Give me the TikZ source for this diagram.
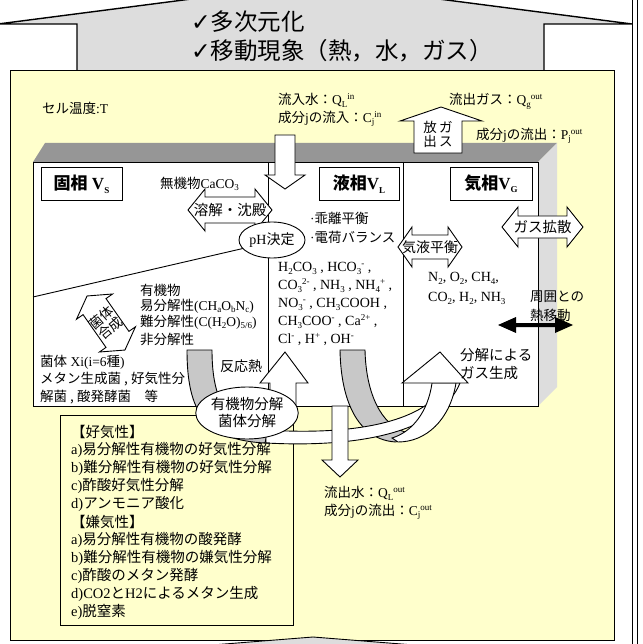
\documentclass[tikz,border=0pt]{standalone}
\usepackage{fontspec}
\usetikzlibrary{shapes.geometric}
\setmainfont{Liberation Serif}
\newfontfamily\jp{Noto Sans CJK JP}
\newfontfamily\djv{DejaVu Sans}
\newcommand\J[1]{{\jp #1}}
\newcommand\Sb[1]{\smash{\raisebox{-0.4ex}{\fontsize{9}{9}\selectfont #1}}}
\newcommand\Sp[1]{\smash{\raisebox{0.75ex}{\fontsize{9}{9}\selectfont #1}}}
\newcommand\SbSp[2]{\Sb{#1}\Sp{#2}}
\definecolor{cellyellow}{HTML}{FFFFCC}
\definecolor{arrowgrey}{HTML}{DDDDDD}
\definecolor{topgrey}{HTML}{969696}
\definecolor{sidegrey}{HTML}{DDDDDD}
\definecolor{bandgrey}{HTML}{C8C8C8}
\newcommand\DArrow[6]{%
 \draw[outl,fill=white] (#1,#3) -- ({#1+#4},{#3-#5}) -- ({#1+#4},{#3-#6}) -- ({#2-#4},{#3-#6}) -- ({#2-#4},{#3-#5}) -- (#2,#3) -- ({#2-#4},{#3+#5}) -- ({#2-#4},{#3+#6}) -- ({#1+#4},{#3+#6}) -- ({#1+#4},{#3+#5}) -- cycle;}
\begin{document}
\begin{tikzpicture}[x=1pt,y=-1pt,line join=miter,
  outl/.style={draw=black,line width=0.9pt},
  txt/.style={inner sep=0pt,anchor=west,font=\fontsize{13.5}{16}\selectfont},
  ctxt/.style={inner sep=0pt,anchor=center,font=\fontsize{14}{16}\selectfont},
  lst/.style={inner sep=0pt,anchor=west,font=\fontsize{14.5}{18}\selectfont},
  lbl/.style={draw=black,line width=0.9pt,fill=white,minimum width=81pt,minimum height=33pt,inner sep=0pt,font=\fontsize{17}{20}\selectfont\bfseries}]
\useasboundingbox (0,0) rectangle (642,644);
% big grey arrow
\draw[outl,line width=1.4pt,fill=arrowgrey] (-2,24) -- (315,-17) -- (632,24) -- (544,24) -- (544,72) -- (77,72) -- (77,24) -- cycle;
\draw[line width=1.2pt] (632.5,0) -- (632.5,644);
\draw[line width=1.2pt] (637.5,0) -- (637.5,644);
\node[inner sep=0pt,anchor=west,font=\fontsize{23.5}{27}\selectfont] (t1) at (191,22) {{\djv ✓}\J{多次元化}};
\node[inner sep=0pt,anchor=west,font=\fontsize{23.5}{27}\selectfont] (t2) at (191,51) {{\djv ✓}\J{移動現象（熱，水，ガス）}};
% yellow cell box
\draw[outl,fill=cellyellow] (10,70) rectangle (614,640);
\draw[outl,fill=arrowgrey] (212,645) -- (313,637) -- (414,645);
\node[txt] (temp) at (42,108) {\J{セル温度}:T};
\node[txt] (qin) at (278,100) {\J{流入水：}Q\SbSp{L}{in}};
\node[txt] (cin) at (278,118) {\J{成分}j\J{の流入：}C\SbSp{j}{in}};
\node[txt] (qgout) at (449,100) {\J{流出ガス：}Q\SbSp{g}{out}};
\node[txt] (pout) at (476,135) {\J{成分}j\J{の流出：}P\SbSp{j}{out}};
% 3D cell block
\fill[topgrey] (33,162) -- (45,143) -- (557,143) -- (538,162) -- cycle;
\fill[sidegrey] (538,162) -- (557,143) -- (557,387) -- (538,406) -- cycle;
% list box
\draw[outl,fill=cellyellow] (60,415) rectangle (293,625);
\draw[outl,fill=white] (33,162) rectangle (538,406);
\draw[outl] (268,162) -- (268,406);
\draw[outl] (403,162) -- (403,406);
\draw[outl] (33,297) -- (245,248);
% inflow arrow
\draw[outl,fill=white] (275,135) -- (295,135) -- (295,175) -- (305,175) -- (285,189) -- (265,175) -- (275,175) -- cycle;
% gas outflow arrow
\draw[outl,fill=white] (414,153) -- (414,121) -- (400,121) -- (441,107) -- (482,121) -- (462,121) -- (462,153) -- cycle;
\node[inner sep=0pt,font=\fontsize{13.5}{16}\selectfont,align=center] (gout) at (438,134) {\J{放\,ガ}\\[-2pt]\J{出\,ス}};
% phase labels
\node[lbl] (solid) at (81.5,183.5) {\J{固相} V\Sb{S}};
\node[lbl,minimum width=80pt] (liquid) at (359,183.5) {\J{液相}V\Sb{L}};
\node[lbl,minimum width=82pt] (gas) at (491,183.5) {\J{気相}V\Sb{G}};
% solid phase
\node[txt] (caco) at (160,183) {\J{無機物}CaCO\Sb{3}};
\DArrow{188}{272}{210}{17}{21}{13}
\node[ctxt,font=\fontsize{14.5}{16}\selectfont] (diss) at (230,210) {\J{溶解・沈殿}};
\node[txt] (org) at (140,290) {\J{有機物}};
\node[txt] (org1) at (140,306) {\J{易分解性}(CH\Sb{a}O\Sb{b}N\Sb{c})};
\node[txt] (org2) at (140,322) {\J{難分解性}(C(H\Sb{2}O)\Sb{5/6})};
\node[txt] (org3) at (140,339) {\J{非分解性}};
\begin{scope}[shift={(106,323)},rotate=35]
\draw[outl,fill=white] (0,-33) -- (22,-20) -- (14,-20) -- (14,20) -- (22,20) -- (0,33) -- (-22,20) -- (-14,20) -- (-14,-20) -- (-22,-20) -- cycle;
\end{scope}
\node[inner sep=0pt,rotate=40,font=\fontsize{13.5}{15}\selectfont,align=center] (synth) at (106,323) {\J{菌体}\\[-1pt]\J{合成}};
\node[txt] (bac1) at (40,362) {\J{菌体} Xi(i=6\J{種})};
\node[txt] (bac2) at (40,379) {\J{メタン生成菌 , 好気性分}};
\node[txt] (bac3) at (40,397) {\J{解菌 , 酸発酵菌　等}};
\node[txt,font=\fontsize{14}{16}\selectfont] (heat) at (220,366) {\J{反応熱}};
% liquid phase
\node[txt] (eq1) at (310,218) {·\J{乖離平衡}};
\node[txt] (eq2) at (310,237) {·\J{電荷バランス}};
\node[txt,font=\fontsize{14}{16}\selectfont] (sp1) at (278,268) {H\Sb{2}CO\Sb{3} , HCO\SbSp{3}{-} ,};
\node[txt,font=\fontsize{14}{16}\selectfont] (sp2) at (278,286) {CO\SbSp{3}{2-} , NH\Sb{3} , NH\SbSp{4}{+} ,};
\node[txt,font=\fontsize{14}{16}\selectfont] (sp3) at (278,304) {NO\SbSp{3}{-} , CH\Sb{3}COOH ,};
\node[txt,font=\fontsize{14}{16}\selectfont] (sp4) at (278,322) {CH\Sb{3}COO\Sp{-} , Ca\Sp{2+} ,};
\node[txt,font=\fontsize{14}{16}\selectfont] (sp5) at (278,340) {Cl\Sp{-} , H\Sp{+} , OH\Sp{-}};
\DArrow{398}{462}{247}{14}{20}{12}
\node[ctxt] (vle) at (430,247) {\J{気液平衡}};
% gas phase
\node[txt,font=\fontsize{14}{16}\selectfont] (g1) at (428,278) {N\Sb{2}, O\Sb{2}, CH\Sb{4},};
\node[txt,font=\fontsize{14}{16}\selectfont] (g2) at (428,298) {CO\Sb{2}, H\Sb{2}, NH\Sb{3}};
\DArrow{502}{583}{227}{16}{20}{11}
\node[ctxt,font=\fontsize{14.5}{16}\selectfont] (gdiff) at (542.5,227) {\J{ガス拡散}};
\node[txt] (amb1) at (530,297) {\J{周囲との}};
\node[txt] (amb2) at (530,315) {\J{熱移動}};
\fill[black] (498,325) -- (516,317) -- (516,323) -- (555,323) -- (555,317) -- (573,325) -- (555,333) -- (555,327) -- (516,327) -- (516,333) -- cycle;
% decomposition bands
\draw[outl,fill=bandgrey] (187,350) .. controls (187,412) and (205,440) .. (265,443) -- (268,430) .. controls (230,428) and (212,405) .. (212,350) -- cycle;
\draw[outl,fill=bandgrey] (340,350) .. controls (341,405) and (360,440) .. (396,442) -- (405,432) .. controls (382,425) and (366,395) .. (365,350) -- cycle;
\draw[outl,fill=white] (266,430) .. controls (360,436) and (428,420) .. (446,383) -- (460,383) .. controls (440,432) and (360,448) .. (266,443) -- cycle;
\draw[outl,fill=white] (392,438) .. controls (412,432) and (428,412) .. (432,383) -- (456,383) .. controls (450,420) and (426,442) .. (398,442) -- cycle;
\draw[outl,fill=white] (402,383) -- (440,352) -- (468,383) -- cycle;
\node[txt,font=\fontsize{14.5}{16}\selectfont] (gasgen1) at (460,355) {\J{分解による}};
\node[txt,font=\fontsize{14.5}{16}\selectfont] (gasgen2) at (460,373) {\J{ガス生成}};
% heat arrow
\draw[outl,fill=white] (270,410) -- (270,383) -- (260,383) -- (285,352) -- (308,383) -- (296,383) -- (296,410) -- cycle;
\node[ellipse,draw=black,line width=0.9pt,fill=white,minimum width=88pt,minimum height=52pt,inner sep=0pt,font=\fontsize{14.5}{17}\selectfont,align=center] (decomp) at (247,413) {\J{有機物分解}\\\J{菌体分解}};
\node[ellipse,draw=black,line width=0.9pt,fill=white,minimum width=66pt,minimum height=36pt,inner sep=0pt,font=\fontsize{14}{16}\selectfont] (ph) at (272,240) {pH\J{決定}};
% outflow water arrow
\draw[outl,fill=white] (332,406) -- (348,406) -- (348,460) -- (358,460) -- (340,477) -- (322,460) -- (332,460) -- cycle;
\node[txt] (qout) at (324,493) {\J{流出水：}Q\SbSp{L}{out}};
\node[txt] (cout) at (324,511) {\J{成分}j\J{の流出：}C\SbSp{j}{out}};
% reaction list
\foreach \t [count=\i from 0] in {{\J{【好気性】}},{a)\J{易分解性有機物の好気性分解}},{b)\J{難分解性有機物の好気性分解}},{c)\J{酢酸好気性分解}},{d)\J{アンモニア酸化}},{\J{【嫌気性】}},{a)\J{易分解性有機物の酸発酵}},{b)\J{難分解性有機物の嫌気性分解}},{c)\J{酢酸のメタン発酵}},{d)CO2\J{と}H2\J{によるメタン生成}},{e)\J{脱窒素}}}
  \node[lst] (r\i) at (71,{432+18*\i}) {\t};
\end{tikzpicture}
\end{document}
